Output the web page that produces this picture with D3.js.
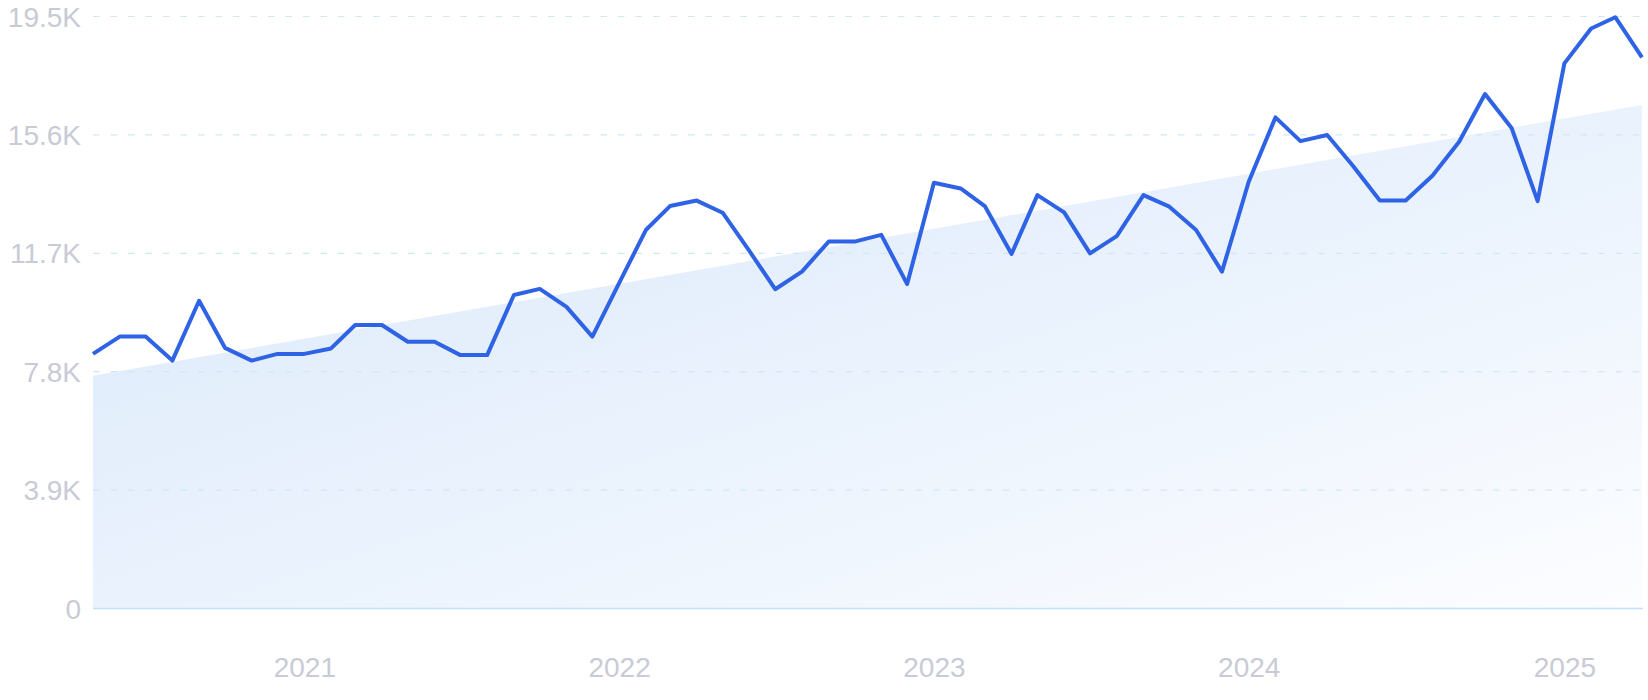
<html>
  <head>
    <meta charset="utf-8" />
    <script src="https://d3js.org/d3.v7.min.js"></script>
    <style>
      body { margin: 0; background: #fff; }
    </style>
  </head>
  <body>
    <div class="container"></div>
  </body>
</html>

<script>
  // monthly values, May 2020 .. Apr 2025
  const startMonth = new Date(2020, 4, 1);
  const values = [
    8370, 8940, 8940, 8150, 10120, 8570, 8150, 8370,
    8370, 8550, 9320, 9320, 8770, 8770, 8330, 8330, 10310, 10510, 9920, 8940, 10700, 12450, 13240, 13420,
    13020, 11760, 10500, 11080, 12070, 12070, 12290, 10670, 14010, 13820, 13240, 11660,
    13600, 13030, 11680, 12250, 13600, 13220, 12450, 11080, 14040, 16160, 15380, 15580,
    14560, 13420, 13420, 14240, 15360, 16930, 15800, 13400,
    17940, 19090, 19460, 18140
  ];
  const trendValues = [7650, 16570];
  const yTicks = [0, 3900, 7800, 11700, 15600, 19500];
  const yearTicks = [2021, 2022, 2023, 2024, 2025];

  const width = 1648;
  const height = 700;
  const plotLeft = 93;
  const plotRight = 1642;
  const plotTop = 16;
  const plotBottom = 608;

  const data = values.map((v, i) => ({
    date: new Date(startMonth.getFullYear(), startMonth.getMonth() + i, 1),
    value: v
  }));
  const firstDate = data[0].date;
  const lastDate = data[data.length - 1].date;

  const x = d3.scaleTime().domain([firstDate, lastDate]).range([plotLeft, plotRight]);
  const y = d3.scaleLinear().domain([0, 19500]).range([plotBottom, plotTop]);

  const svg = d3
    .select(".container")
    .append("svg")
    .attr("width", width)
    .attr("height", height)
    .attr("font-family", "Roboto, sans-serif");

  const defs = svg.append("defs");
  const grad = defs
    .append("linearGradient")
    .attr("id", "trendFill")
    .attr("x1", 0)
    .attr("y1", 0)
    .attr("x2", 1)
    .attr("y2", 1);
  grad.append("stop").attr("offset", 0).attr("stop-color", "#dae8fa");
  grad.append("stop").attr("offset", 0.55).attr("stop-color", "#ebf3fd");
  grad.append("stop").attr("offset", 1).attr("stop-color", "#fcfdff");

  // trend area
  const trend = [
    { date: firstDate, value: trendValues[0] },
    { date: lastDate, value: trendValues[1] }
  ];
  svg
    .append("path")
    .datum(trend)
    .attr("fill", "url(#trendFill)")
    .attr(
      "d",
      d3
        .area()
        .x((d) => x(d.date))
        .y0(y(0))
        .y1((d) => y(d.value))
    );

  // grid
  const yAxis = svg
    .append("g")
    .attr("transform", `translate(${plotLeft},0)`)
    .call(
      d3
        .axisLeft(y)
        .tickValues(yTicks)
        .tickSize(-(plotRight - plotLeft + 1))
        .tickPadding(12)
        .tickFormat((d) => (d === 0 ? "0" : (d / 1000).toFixed(1) + "K"))
    );
  yAxis.select(".domain").remove();
  yAxis
    .selectAll(".tick line")
    .attr("stroke", (d) => (d === 0 ? "#c4e0f7" : "#cfe7f6"))
    .attr("stroke-width", (d) => (d === 0 ? 1.5 : 1.2))
    .attr("stroke-dasharray", (d) => (d === 0 ? null : "6.5,11"));
  yAxis
    .selectAll(".tick text")
    .attr("fill", "#c8cbd5")
    .attr("font-size", 28)
    .attr("font-weight", 300)
    .attr("dy", "0.36em");

  const xAxis = svg
    .append("g")
    .attr("transform", `translate(0,${plotBottom})`)
    .call(
      d3
        .axisBottom(x)
        .tickValues(yearTicks.map((yr) => new Date(yr, 0, 1)))
        .tickSize(0)
        .tickPadding(0)
        .tickFormat(d3.timeFormat("%Y"))
    );
  xAxis.select(".domain").remove();
  xAxis
    .selectAll(".tick text")
    .attr("fill", "#c8cbd5")
    .attr("font-size", 28)
    .attr("font-weight", 300)
    .attr("y", 59)
    .attr("dy", "0.36em");

  // main line
  svg
    .append("path")
    .datum(data)
    .attr("fill", "none")
    .attr("stroke", "#2f63e6")
    .attr("stroke-width", 4)
    .attr("stroke-linejoin", "round")
    .attr(
      "d",
      d3
        .line()
        .x((d) => x(d.date))
        .y((d) => y(d.value))
    );
</script>
